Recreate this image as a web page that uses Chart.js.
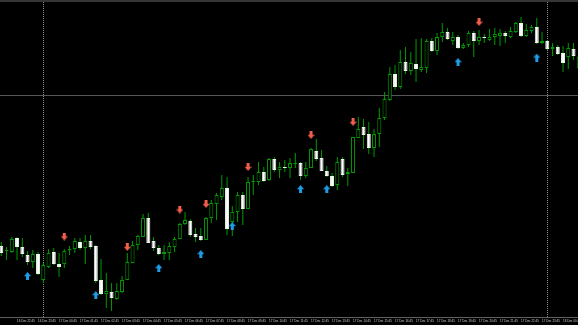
<!DOCTYPE html>
<html>
<head>
<meta charset="utf-8">
<script src="https://cdn.jsdelivr.net/npm/chart.js@4.4.1/dist/chart.umd.min.js"></script>
<style>
html,body{margin:0;padding:0;background:#000;overflow:hidden}
canvas{display:block}
</style>
</head>
<body>
<canvas id="c" width="578" height="325"></canvas>
<script>
// 15-minute candles, 16 Dec 22:00 -> 18 Dec 01:30 (price in points)
const opens = [71,66,65,79,70,62,55,63,37,50, 65,53,53,67,68,75,69,76,71,37,
  23,25,18,25,37,54,72,80,99,76, 69,63,64,70,78,93,96,83,81,77,
  99,113,120,129,95,105,122,108,135,135, 145,137,158,147,150,149,153,154,141,149,
  166,159,146,141,132,158,143,144,179,190, 183,169,183,199,217,243,230,255,246,253,
  247,249,276,266,280,285,276,280,269,272, 284,276,280,277,280,281,284,280,285,294,
  281,286,290,274,276,268,270,264,260,268, 249];
const highs = [75,70,80,80,79,66,67,65,54,68, 69,64,68,71,79,79,82,82,72,58,
  44,34,34,41,64,76,82,103,104,80, 72,72,75,80,94,105,98,89,89,100,
  117,124,142,140,111,125,125,140,142,155, 150,159,160,155,157,159,164,155,155,169,
  178,167,151,144,160,160,149,180,200,198, 195,188,209,225,250,252,267,270,265,278,
  279,278,279,284,294,289,285,282,274,286, 286,287,283,288,289,288,286,290,295,300,
  293,292,299,285,277,274,272,271,274,274, 262];
const lows = [61,57,64,57,60,52,49,42,34,49, 52,40,49,62,64,67,53,68,34,22,
  9,6,17,24,37,54,67,80,74,66, 62,57,57,65,78,92,80,75,76,77,
  94,97,117,82,81,95,92,108,122,132, 135,136,145,139,145,139,149,137,139,149,
  156,146,140,130,127,140,131,144,179,168, 163,160,170,197,216,227,228,243,242,235,
  245,244,265,262,275,277,272,268,268,270, 260,272,274,276,272,271,274,279,284,280,
  280,284,273,273,267,261,262,245,248,257, 247];
const closes = [64,67,78,70,63,55,63,43,52,64, 53,50,66,68,76,69,76,70,36,23,
  26,19,26,37,55,72,81,99,74,69, 63,65,71,78,93,97,82,80,77,99,
  114,122,129,88,105,122,108,135,136,145, 136,158,147,150,149,154,154,141,149,168,
  158,146,141,131,155,142,145,180,188,182, 169,183,199,218,243,230,255,246,254,248,
  250,276,266,280,285,278,280,269,272,284, 276,280,279,280,283,284,281,286,294,281,
  287,290,274,276,268,270,263,254,269,261, 260];

// fractal arrows (candle index, price)
const sellArrowIdx = [12,24,34,39,47,59,67,91];
const sellArrowVal = [80.5,70,107.5,113,150,182,195,295];
const buyArrowIdx = [5,18,30,38,44,57,62,87,102];
const buyArrowVal = [41,22,49,63,91,128,128,255,259.5];

// time axis
const tickIdx = [3,7,11,15,19,23,27,31,35,39,43,47,51,55,59,63,67,71,75,79,83,87,91,95,99,103,107];
const tickLabels = ["16 Dec 22:45","16 Dec 23:45","17 Dec 00:45","17 Dec 01:45","17 Dec 02:45",
  "17 Dec 03:45","17 Dec 04:45","17 Dec 05:45","17 Dec 06:45","17 Dec 07:45","17 Dec 08:45",
  "17 Dec 09:45","17 Dec 10:45","17 Dec 11:45","17 Dec 12:45","17 Dec 13:45","17 Dec 14:45",
  "17 Dec 15:45","17 Dec 16:45","17 Dec 17:45","17 Dec 18:45","17 Dec 19:45","17 Dec 20:45",
  "17 Dec 21:45","17 Dec 22:45","17 Dec 23:45","18 Dec 00:45"];
const daySeparators = [8, 104];
const priceLevels = [222];

const GREEN = '#009a00';

function arrowImage(color, up) {
  const c = document.createElement('canvas');
  c.width = 7; c.height = 8;
  const g = c.getContext('2d');
  g.fillStyle = color;
  g.beginPath();
  if (up) {
    g.moveTo(3.5, 0); g.lineTo(7, 4.2); g.lineTo(0, 4.2); g.closePath(); g.fill();
    g.fillRect(2, 4, 3, 4);
  } else {
    g.fillRect(2, 0, 3, 4);
    g.moveTo(0, 3.8); g.lineTo(7, 3.8); g.lineTo(3.5, 8); g.closePath(); g.fill();
  }
  return c;
}

const wickData = highs.map((h, i) => ({x: i, y: [lows[i], h]}));
const bodyData = opens.map((o, i) => ({x: i, y: [o, closes[i]]}));
const sellData = sellArrowIdx.map((i, k) => ({x: i, y: sellArrowVal[k]}));
const buyData = buyArrowIdx.map((i, k) => ({x: i, y: buyArrowVal[k]}));

const mtChrome = {
  id: 'mtChrome',
  beforeDraw(chart) {
    const ctx = chart.ctx;
    ctx.save();
    ctx.fillStyle = '#000';
    ctx.fillRect(0, 0, chart.width, chart.height);
    ctx.restore();
  },
  beforeDatasetsDraw(chart) {
    const {ctx, chartArea: a, scales: {x, y}} = chart;
    ctx.save();
    ctx.fillStyle = '#353535';
    ctx.fillRect(0, 0, chart.width, 2);
    ctx.lineWidth = 1;
    ctx.strokeStyle = '#555555';
    priceLevels.forEach(v => {
      const py = Math.round(y.getPixelForValue(v)) + 0.5;
      ctx.beginPath(); ctx.moveTo(0, py); ctx.lineTo(chart.width, py); ctx.stroke();
    });
    ctx.strokeStyle = '#8a8a8a';
    ctx.setLineDash([1, 1]);
    daySeparators.forEach(i => {
      const px = Math.round(x.getPixelForValue(i)) + 0.5;
      ctx.beginPath(); ctx.moveTo(px, 2); ctx.lineTo(px, a.bottom); ctx.stroke();
    });
    ctx.setLineDash([]);
    ctx.strokeStyle = '#5f5f5f';
    ctx.beginPath(); ctx.moveTo(0, a.bottom + 0.5); ctx.lineTo(chart.width, a.bottom + 0.5); ctx.stroke();
    ctx.restore();
  }
};

new Chart(document.getElementById('c'), {
  type: 'bar',
  data: {
    datasets: [
      {type: 'scatter', order: 0, data: sellData, pointStyle: arrowImage('#ef5f4b', false), pointRadius: 4, clip: false},
      {type: 'scatter', order: 0, data: buyData, pointStyle: arrowImage('#1e9de6', true), pointRadius: 4, clip: false},
      {type: 'bar', order: 1, data: bodyData, barThickness: 4, grouped: false, clip: false,
        inflateAmount: 0, borderSkipped: false, borderWidth: 1,
        backgroundColor: c => closes[c.dataIndex] >= opens[c.dataIndex] ? '#000000' : '#ffffff',
        borderColor: c => closes[c.dataIndex] >= opens[c.dataIndex] ? GREEN : '#e8f8e8'},
      {type: 'bar', order: 2, data: wickData, barThickness: 1, grouped: false, clip: false,
        inflateAmount: 0, borderWidth: 0, backgroundColor: GREEN}
    ]
  },
  options: {
    responsive: false,
    animation: false,
    devicePixelRatio: 1,
    layout: {autoPadding: false, padding: {top: 2, left: 0, right: 0, bottom: 0}},
    plugins: {legend: {display: false}, tooltip: {enabled: false}},
    scales: {
      x: {
        type: 'linear', min: -0.25, max: 109.85, offset: false,
        grid: {display: false, drawTicks: false},
        border: {display: false},
        afterBuildTicks: s => { s.ticks = tickIdx.map(v => ({value: v})); },
        afterFit: s => { s.height = 8; s.paddingLeft = 0; s.paddingRight = 0; },
        ticks: {
          autoSkip: false, maxRotation: 0, minRotation: 0, align: 'start', padding: 2,
          color: '#cfcfcf',
          font: {family: "'Liberation Sans Narrow', 'Liberation Sans', sans-serif", size: 3},
          callback: v => { const k = tickIdx.indexOf(v); return k >= 0 ? tickLabels[k] : ''; }
        }
      },
      y: {display: false, min: 0, max: 315}
    }
  },
  plugins: [mtChrome]
});
</script>
</body>
</html>
